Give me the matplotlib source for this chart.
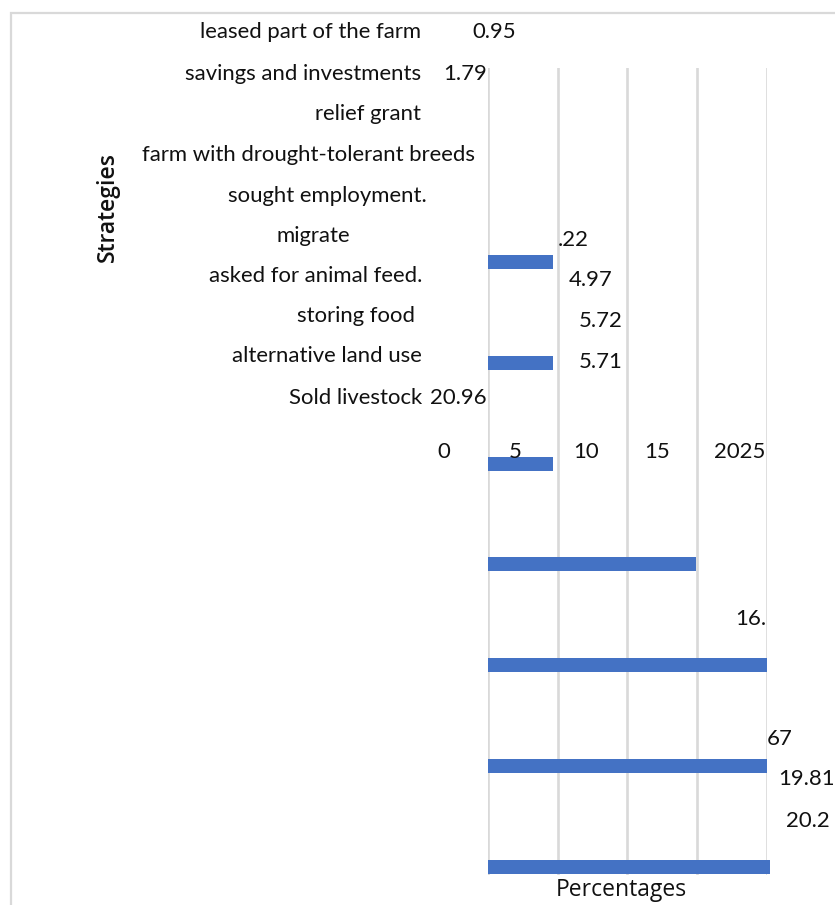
import matplotlib
matplotlib.use('Agg')
import matplotlib.pyplot as plt
from matplotlib.patches import Rectangle

# 数据
categories = ['leased part of the farm', 'savings and investments', 'relief grant',
              'farm with drought-tolerant breeds', 'sought employment.', 'migrate',
              'asked for animal feed.', 'storing food', 'alternative land use', 'Sold livestock']
value_labels = ['0.95', '1.79', '.22', '4.97', '5.72', '5.71', '20.96', '16.', '67', '19.81', '20.2']
tick_labels = ['0', '5', '10', '15', '2025']
bar_values = [4.7, 4.7, 4.7, 14.9, 20.0, 20.0, 20.25]
grid_ticks = [0, 5, 10, 15, 20]

# 文字位置 (像素, 从左上角算起)
cat_pos = [(421, 32), (421, 74), (421, 114), (475, 155), (427, 196), (350, 236),
           (422, 276), (415, 316), (422, 356), (422, 398)]
val_pos = [(494, 32), (465, 74), (573, 240), (591, 280), (601, 321), (601, 362),
           (458, 398), (751, 619), (780, 739), (807, 779), (808, 821)]
tick_pos = [(444, 452), (515, 452), (586, 452), (657, 452), (740, 452)]

W, H = 835, 905
fig = plt.figure(figsize=(W / 100, H / 100), dpi=100)
fig.patch.set_facecolor('white')

def px(x, y):
    return x / W, 1 - y / H

# 外框
fig.patches.append(Rectangle(px(11, 950), 900 / W, (950 - 13) / H, transform=fig.transFigure,
                             fill=False, edgecolor='#d9d9d9', linewidth=1.6))

# 条形图区域
ax_l, ax_r, ax_t, ax_b = 488, 766.7, 68, 875
ax = fig.add_axes([ax_l / W, 1 - ax_b / H, (ax_r - ax_l) / W, (ax_b - ax_t) / H])
pos = list(range(len(bar_values)))
ax.barh(pos, bar_values, height=0.14, color='#4472C4', clip_on=False, zorder=3)
ax.set_xlim(0, 20)
# 像素 262 对应第一条, 间隔约 100.8
ax.set_ylim((ax_b - 262) / 100.8, (ax_t - 262) / 100.8)
ax.set_xticks(grid_ticks)
ax.set_yticks([])
ax.tick_params(length=0, labelbottom=False)
ax.grid(axis='x', color='#d9d9d9', linewidth=1.9)
for s in ax.spines.values():
    s.set_visible(False)

fs = 15.9
tc = '#111111'
for t, (x, y) in zip(categories, cat_pos):
    fig.text(*px(x, y), t, ha='right', va='center', fontsize=fs, family='Lato', color=tc)
for t, (x, y) in zip(value_labels, val_pos):
    fig.text(*px(x, y), t, ha='center', va='center', fontsize=fs, family='Lato', color=tc)
for t, (x, y) in zip(tick_labels, tick_pos):
    fig.text(*px(x, y), t, ha='center', va='center', fontsize=fs, family='Lato', color=tc)

fig.text(*px(621, 890), 'Percentages', ha='center', va='center', fontsize=16.5, family='Open Sans', color=tc)
fig.text(*px(108, 207), 'Strategies', ha='center', va='center', rotation=90, fontsize=16.5,
         family='Open Sans', weight='semibold', color=tc)

fig.savefig('out.png', dpi=100)
